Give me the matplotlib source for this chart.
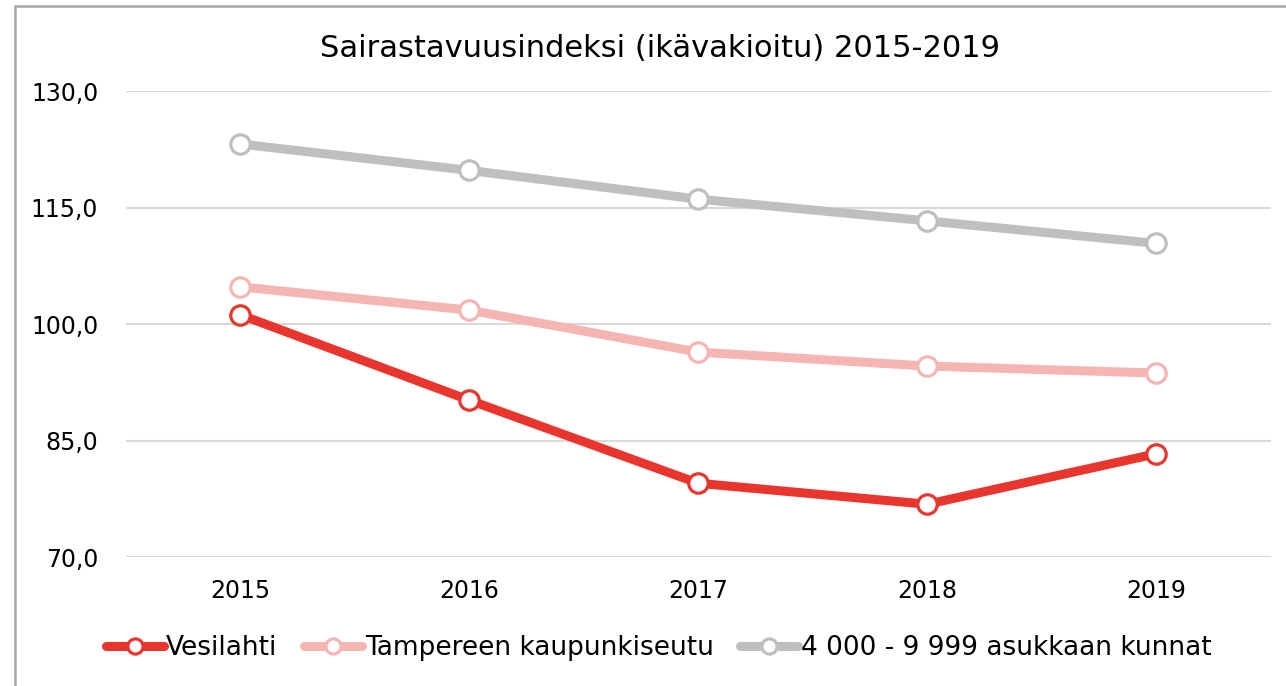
import matplotlib.pyplot as plt
from matplotlib.patches import Rectangle
from matplotlib.ticker import FuncFormatter

years = ["2015", "2016", "2017", "2018", "2019"]
vesilahti = [101.2, 90.2, 79.5, 76.8, 83.3]
tampere = [104.8, 101.8, 96.4, 94.6, 93.7]
kunnat = [123.2, 119.8, 116.1, 113.3, 110.4]
series_names = ["Vesilahti", "Tampereen kaupunkiseutu", "4 000 - 9 999 asukkaan kunnat"]
colors = ["#E8352D", "#F5B5B2", "#BFBFBF"]

plt.rcParams["font.family"] = ["DejaVu Sans"]

fig = plt.figure(figsize=(12.86, 6.86), dpi=100)
ax = fig.add_axes([0.098, 0.188, 0.890, 0.679])

x = range(len(years))
for vals, name, col in zip([vesilahti, tampere, kunnat], series_names, colors):
    ax.plot(x, vals, color=col, lw=6.5, marker="o", markersize=14,
            markerfacecolor="white", markeredgecolor=col, markeredgewidth=2.3,
            label=name, solid_capstyle="round", zorder=3)

ax.set_xlim(-0.5, 4.5)
ax.set_ylim(70, 130)
ax.set_yticks([70, 85, 100, 115, 130])
ax.yaxis.set_major_formatter(FuncFormatter(lambda v, p: f"{v:.1f}".replace(".", ",")))
ax.set_xticks(list(x))
ax.set_xticklabels(years)
ax.grid(axis="y", color="#D9D9D9", lw=1.5)
ax.set_axisbelow(True)
for s in ax.spines.values():
    s.set_visible(False)
ax.tick_params(length=0, labelsize=17, pad=20)
ax.tick_params(axis="x", pad=16)

fig.text(0.513, 0.93, "Sairastavuusindeksi (ikävakioitu) 2015-2019", ha="center",
         va="center", fontsize=22)

fig.legend(loc="center", bbox_to_anchor=(0.512, 0.055), ncol=3, frameon=False,
           fontsize=19, handlelength=2.2, handletextpad=0.1, columnspacing=1.0,
           markerscale=0.78)

fig.patches.append(Rectangle((15 / 1286, -0.1), 1.2, 1 - 6 / 686 + 0.1,
                             transform=fig.transFigure, fill=False,
                             edgecolor="#A6A6A6", lw=1.8))

fig.savefig("out.png", dpi=100)
